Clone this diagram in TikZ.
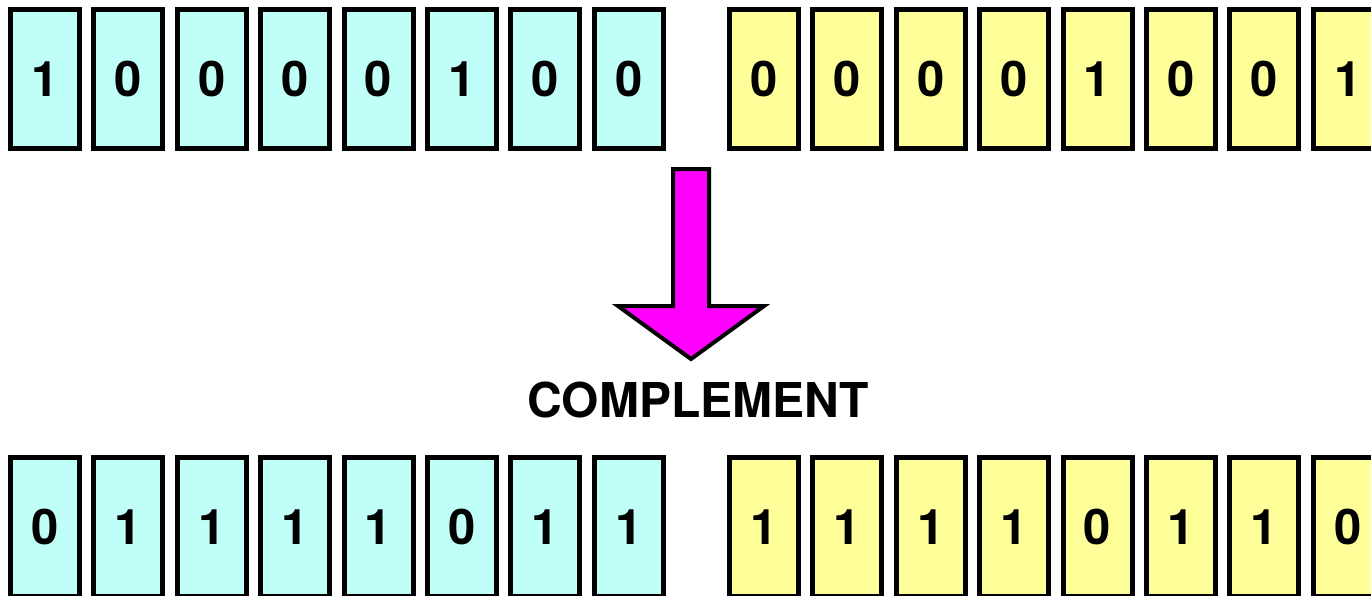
\documentclass[tikz,border=0pt]{standalone}
\usepackage{fontspec}
\setmainfont{TeX Gyre Heros}
\definecolor{bitcyan}{RGB}{192,255,247}
\definecolor{bityellow}{RGB}{255,255,153}
\definecolor{arrowpink}{RGB}{255,0,255}

\begin{document}
\begin{tikzpicture}[x=1pt,y=-1pt,
    bit/.style={draw=black,line width=5pt,minimum width=69pt,minimum height=139pt,
      inner sep=0pt,font=\fontsize{49}{49}\selectfont\bfseries}]
    \useasboundingbox (0,0) rectangle (1371,595);
    % first byte, before
    \foreach \b [count=\x from 0] in {1,0,0,0,0,1,0,0} {
      \node[bit,fill=bitcyan] at (45+83.4*\x,79) (a-\x) {\b};
    }
    % second byte, before
    \foreach \b [count=\x from 0] in {0,0,0,0,1,0,0,1} {
      \node[bit,fill=bityellow] at (764+83.4*\x,79) (b-\x) {\b};
    }
    % arrow
    \draw[line width=4pt,fill=arrowpink,line join=miter]
      (673,169) -- (709,169) -- (709,306) -- (764,306) -- (691,359)
      -- (618,306) -- (673,306) -- cycle;
    \node[font=\fontsize{48}{48}\selectfont\bfseries] at (698,400) (op) {COMPLEMENT};
    % first byte, after
    \foreach \b [count=\x from 0] in {0,1,1,1,1,0,1,1} {
      \node[bit,fill=bitcyan] at (45+83.4*\x,527) (c-\x) {\b};
    }
    % second byte, after
    \foreach \b [count=\x from 0] in {1,1,1,1,0,1,1,0} {
      \node[bit,fill=bityellow] at (764+83.4*\x,527) (d-\x) {\b};
    }
\end{tikzpicture}
\end{document}
